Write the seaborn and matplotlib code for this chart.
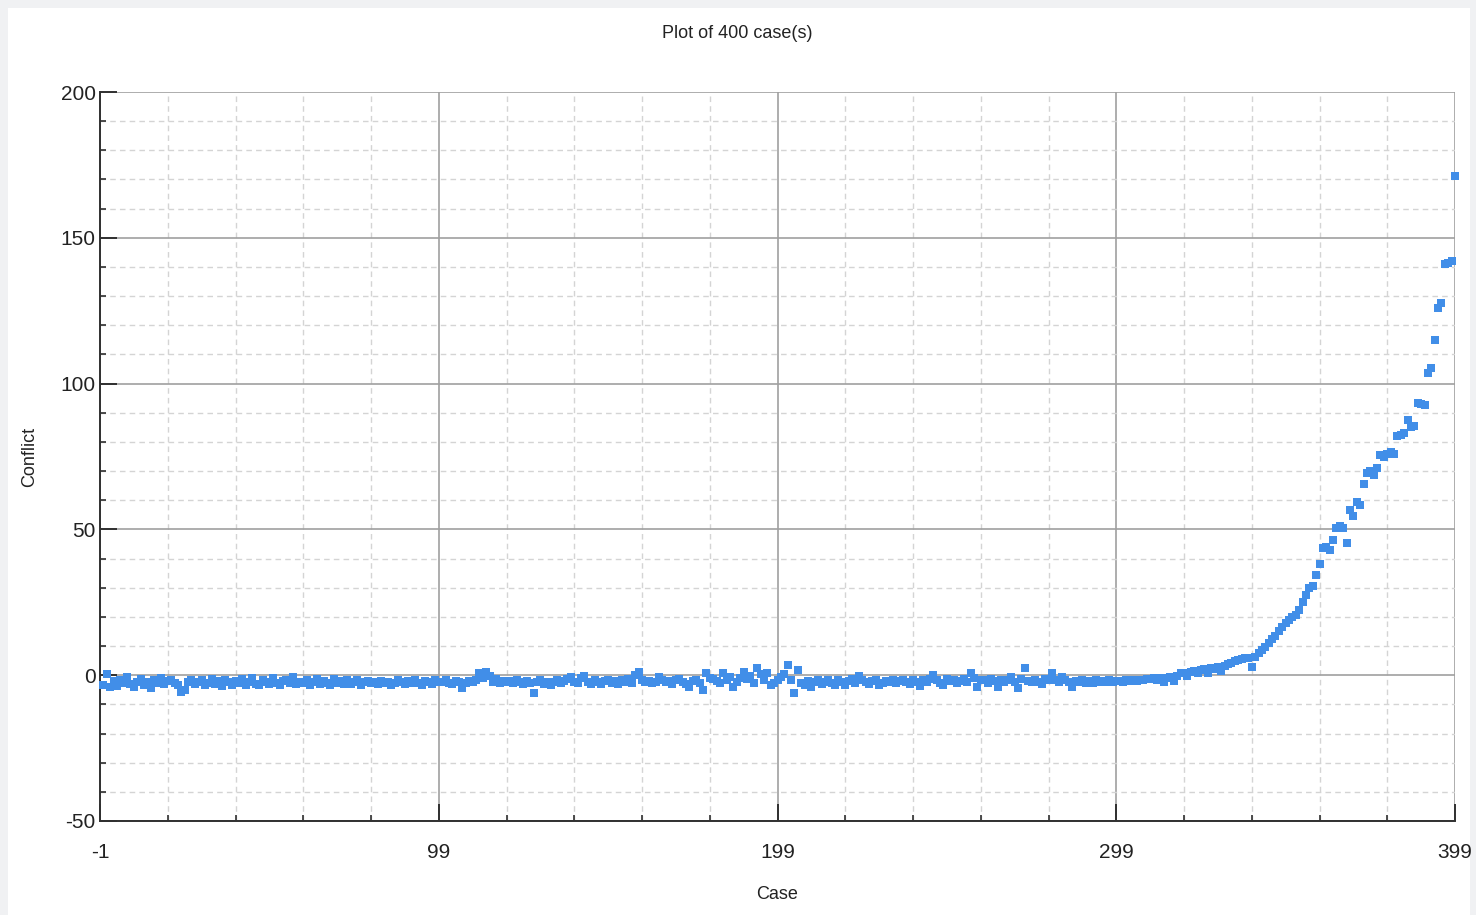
import numpy as np
import pandas as pd
import matplotlib
matplotlib.use('Agg')
import matplotlib.pyplot as plt
import seaborn as sns
from matplotlib.patches import Rectangle
from matplotlib.ticker import MultipleLocator, FixedLocator

# conflict values, case 0..399
conflict_0_99 = [
    -3.5, 0.3, -4.2, -2.0, -3.8, -1.5, -2.8, -0.5, -3.0, -4.0, -2.2, -1.2, -3.4, -2.5, -4.3, -1.8, -2.6, -1.0, -3.1, -2.0,
    -1.5, -2.8, -3.5, -5.8, -5.0, -2.4, -1.6, -3.0, -2.2, -1.8, -3.3, -2.6, -1.4, -2.9, -2.0, -3.6, -1.7, -2.5, -3.2, -1.9,
    -2.7, -1.3, -3.4, -2.2, -0.8, -2.9, -3.5, -1.6, -2.4, -3.0, -1.1, -2.6, -3.3, -2.0, -1.5, -2.8, -0.6, -3.1, -2.3, -2.7,
    -1.8, -3.2, -2.5, -1.4, -3.0, -2.1, -2.8, -3.4, -1.2, -2.6, -2.0, -3.1, -1.7, -2.9, -2.3, -1.6, -3.3, -2.4, -2.0, -2.8,
    -2.5, -3.0, -1.9, -2.7, -2.2, -3.2, -2.6, -1.8, -2.4, -3.0, -2.1, -2.8, -1.5, -2.6, -3.3, -2.0, -2.4, -2.9, -1.7, -2.5,
]
conflict_100_199 = [
    -2.2, -1.8, -2.6, -3.0, -2.0, -2.4, -4.3, -2.8, -1.9, -2.3, -1.5, 0.6, -1.0, 1.0, -0.4, -2.2, -1.4, -2.8, -2.0, -2.5,
    -2.0, -2.7, -1.6, -2.4, -3.0, -2.1, -2.6, -6.0, -2.3, -1.8, -2.9, -2.2, -3.2, -2.5, -1.7, -2.8, -2.0, -1.2, -0.6, -2.4,
    -2.6, -1.0, -0.2, -2.4, -3.0, -1.8, -2.2, -2.9, -2.0, -1.5, -2.6, -2.1, -3.1, -1.8, -2.4, -1.2, -2.8, 0.0, 1.2, -1.6,
    -2.4, -1.9, -2.7, -2.2, -0.7, -1.6, -2.5, -2.0, -3.0, -1.8, -1.3, -2.4, -2.9, -4.0, -2.1, -1.6, -2.7, -5.0, 0.7, -1.0,
    -1.2, -2.0, -2.8, 0.8, -1.5, -0.6, -4.0, -2.2, -0.9, 1.1, -1.4, -0.2, -2.6, 2.4, 0.3, -1.8, 0.8, -3.2, -2.6, -1.5,
]
conflict_200_299 = [
    -0.6, 0.5, 3.4, -1.5, -6.0, 1.7, -2.8, -3.4, -1.9, -4.0, -2.5, -1.6, -3.0, -2.2, -1.5, -2.8, -3.2, -1.8, -2.4, -3.5,
    -2.0, -1.4, -2.6, -0.2, -1.8, -2.5, -3.0, -2.1, -1.6, -3.3, -2.8, -1.9, -2.3, -1.5, -2.6, -2.0, -1.7, -2.4, -2.9, -1.8,
    -2.2, -3.8, -1.5, -2.4, -1.2, 0.0, -1.8, -2.6, -3.3, -1.4, -2.0, -1.6, -2.7, -1.9, -1.3, -2.2, 0.8, -1.0, -3.9, -1.7,
    -1.6, -2.7, -1.2, -2.0, -4.0, -1.5, -2.4, -1.8, -0.5, -2.2, -4.4, -1.3, 2.5, -1.9, -2.4, -1.6, -2.2, -3.0, -1.4, -1.8,
    0.8, -1.5, -2.2, -0.6, -1.8, -2.5, -4.0, -1.9, -2.4, -1.6, -2.8, -2.0, -2.6, -1.8, -2.3, -2.0, -2.5, -1.7, -2.2, -1.9,
]
conflict_300_399 = [
    -2.0, -2.2, -1.8, -2.0, -1.6, -1.9, -1.5, -1.7, -1.2, -1.4, -1.0, -1.6, -0.8, -2.3, -1.0, -0.6, -2.0, -0.3, 0.6, 0.9,
    -0.2, 1.0, 1.3, 0.6, 1.8, 2.0, 0.9, 2.5, 2.2, 2.8, 1.6, 3.2, 3.7, 4.2, 4.7, 5.2, 5.5, 5.8, 6.0, 2.8,
    6.3, 7.5, 8.5, 9.7, 11.0, 12.5, 13.5, 15.0, 16.5, 17.8, 19.0, 20.0, 20.6, 22.5, 25.0, 27.5, 30.0, 30.5, 34.5, 38.0,
    43.5, 44.0, 43.0, 46.5, 50.5, 51.0, 50.5, 45.5, 56.5, 54.5, 59.5, 58.5, 65.5, 69.5, 70.0, 68.5, 71.0, 75.5, 75.0, 76.0,
    76.5, 76.0, 82.0, 82.5, 83.0, 87.5, 85.0, 85.5, 93.5, 93.0, 92.5, 103.5, 105.5, 115.0, 126.0, 127.5, 141.0, 141.5, 142.0, 171.2,
]

conflict = conflict_0_99 + conflict_100_199 + conflict_200_299 + conflict_300_399
cases = list(range(len(conflict)))
x_ticks = [-1, 99, 199, 299, 399]

df = pd.DataFrame({'Case': cases, 'Conflict': conflict})

sns.set_style('white')
plt.rcParams['font.family'] = ['Liberation Sans', 'DejaVu Sans']
plt.rcParams['axes.unicode_minus'] = False

fig = plt.figure(figsize=(14.76, 9.15), dpi=100, facecolor='#f0f1f3')
fig.patches.append(Rectangle((8 / 1476, 0), 1462 / 1476, 907 / 915,
                             transform=fig.transFigure, facecolor='white',
                             edgecolor='none', zorder=-10))
ax = fig.add_axes([100 / 1476, 1 - 821 / 915, 1355 / 1476, 729 / 915])
ax.set_zorder(5)
ax.set_facecolor('white')

sns.scatterplot(data=df, x='Case', y='Conflict', marker='s', s=34,
                color='#418ee8', linewidth=0, ax=ax, zorder=3, clip_on=False)

ax.set_xlim(-1, 399)
ax.set_ylim(-50, 200)
ax.xaxis.set_major_locator(FixedLocator(x_ticks))
ax.xaxis.set_minor_locator(FixedLocator(list(range(19, 399, 20))))
ax.yaxis.set_major_locator(MultipleLocator(50))
ax.yaxis.set_minor_locator(MultipleLocator(10))

ax.grid(which='major', color='#a0a0a0', linestyle='-', linewidth=1.2, zorder=1)
ax.grid(which='minor', color='#d4d4d4', linestyle=(0, (4, 3)), linewidth=1, zorder=1)
ax.set_axisbelow(True)

for side in ['top', 'right']:
    ax.spines[side].set_visible(False)
for side in ['left', 'bottom']:
    ax.spines[side].set_color('#303030')
    ax.spines[side].set_linewidth(1.4)

ax.tick_params(which='both', left=True, bottom=True, top=False, right=False)
ax.tick_params(which='major', direction='in', length=12, width=1.4,
               color='#303030', labelsize=15, labelcolor='#222222', pad=3)
ax.tick_params(which='minor', direction='in', length=4, width=1.2, color='#303030')
ax.tick_params(axis='x', which='major', pad=16)

ax.set_xlabel('Case', fontsize=13, color='#222222', labelpad=17)
ax.set_ylabel('Conflict', fontsize=13, color='#222222', labelpad=16)
fig.text(737 / 1476, 1 - 33 / 915, 'Plot of 400 case(s)', ha='center', va='center',
         fontsize=13, color='#222222')

fig.savefig('out.png', dpi=100, facecolor=fig.get_facecolor())
